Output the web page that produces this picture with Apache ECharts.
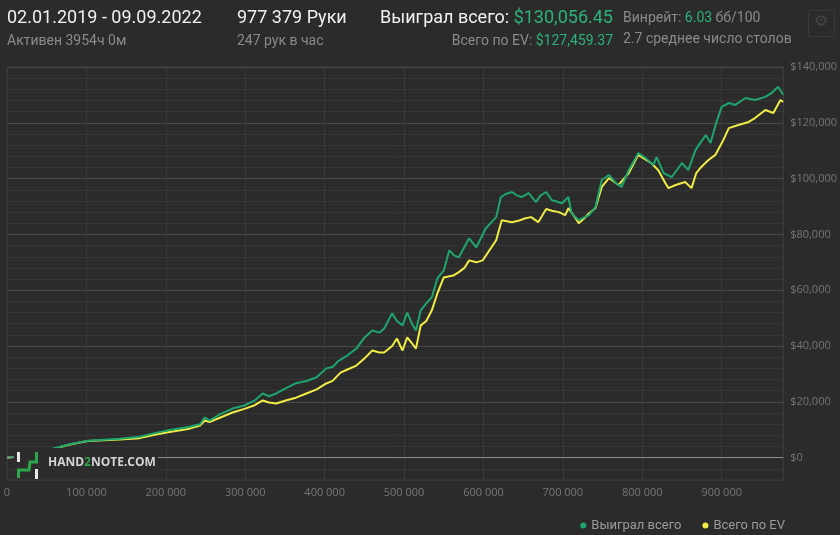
<!DOCTYPE html>
<html>
<head>
<meta charset="utf-8">
<script src="https://cdn.jsdelivr.net/npm/echarts@6/dist/echarts.min.js"></script>
<style>
html,body{margin:0;padding:0;background:#2b2b2b;}
#chart{width:840px;height:535px;}
</style>
</head>
<body>
<div id="chart"></div>
<script>
// ---- data (hands played, cumulative winnings $) ----
const wonHands = [0,16000,35000,54000,79000,102000,142000,167000,186000,201000,230000,243000,249000,255000,268000,284000,299000,312000,322000,330000,339000,352000,364000,377000,390000,402000,410000,418000,428000,440000,450000,460000,469000,475000,485000,491000,498000,504000,510000,515000,521000,528000,535000,542000,550000,557000,563000,569000,576000,582000,591000,603000,616000,622000,628000,636000,642000,648000,657000,666000,672000,679000,686000,692000,699000,707000,711000,720000,726000,733000,741000,749000,758000,767000,774000,783000,789000,795000,804000,814000,818000,827000,837000,850000,858000,867000,873000,880000,886000,893000,900000,909000,917000,930000,942000,955000,963000,971000,977379];
const wonValues = [0,600,1800,2900,4800,6100,6800,7500,8800,9700,11100,12000,14500,13300,15500,17600,18700,20500,23000,22000,23000,25000,26700,27500,28800,32000,32500,34800,36500,39100,43000,45600,44800,46300,51700,49000,47400,52000,48000,45600,52800,55300,57500,64300,67000,74300,72500,71800,75500,78600,75400,82200,86200,93400,94500,95200,94000,93400,94800,91600,94000,95200,92300,91800,91200,93400,87600,85100,86000,86900,89800,99500,101300,98400,97000,103100,106000,109200,107400,104900,107700,102000,100500,105600,103100,110200,112800,115600,112800,119900,125700,127100,126400,128900,128200,129300,130700,132900,130056.45];

const evHands = [0,16000,35000,54000,79000,102000,142000,167000,186000,201000,230000,243000,249000,255000,268000,284000,299000,312000,322000,330000,339000,352000,364000,377000,390000,402000,410000,420000,428000,440000,450000,460000,469000,475000,485000,491000,498000,504000,510000,515000,521000,528000,535000,542000,550000,563000,569000,576000,582000,591000,599000,616000,623000,636000,645000,653000,660000,669000,679000,686000,695000,703000,707000,716000,720000,726000,733000,741000,749000,758000,770000,783000,795000,811000,820000,829000,833000,842000,854000,862000,868000,874000,883000,892000,902000,909000,921000,934000,942000,955000,965000,974000,977379];
const evValues = [0,500,1700,2800,4700,6000,6500,7000,8200,9000,10400,11500,13300,12800,14300,16200,17500,18800,20500,19800,19400,20600,21500,23000,24500,26600,27500,30500,31500,33000,35500,38400,37700,37700,40000,42700,38400,43100,41000,39100,47400,49000,52800,58900,64600,65400,66500,68000,70700,70000,70700,77900,85100,84400,85000,85800,86200,84400,89100,88500,88000,86900,89400,85800,84000,85500,87600,89400,97000,100200,97700,102000,108500,105600,103100,98400,96600,97700,98800,96600,102000,104100,106600,108500,113800,118100,119200,120300,121700,124600,123500,128200,127459.37];

const seriesNames = ['Выиграл всего', 'Всего по EV'];
const xTickStep = 100000;
const yMin = -8000, yMax = 140000, yStep = 4000, yLabelStep = 20000;

const zip = (a, b) => a.map((v, i) => [v, b[i]]);

const chart = echarts.init(document.getElementById('chart'), null, {renderer: 'canvas'});

const GREEN = '#1ea56e';
const YELLOW = '#f0ec46';
const GRAY = '#8a8a8a';

function fmtHands(v){ return String(v).replace(/\B(?=(\d{3})+(?!\d))/g, ' '); }
function fmtMoney(v){ return '$' + String(v).replace(/\B(?=(\d{3})+(?!\d))/g, ','); }

chart.setOption({
  backgroundColor: '#2b2b2b',
  animation: false,
  grid: {left: 7, right: 56, top: 67, bottom: 55, show: true, borderColor: '#3a3a3a', borderWidth: 1},
  legend: {
    data: seriesNames,
    right: 50, top: 514,
    icon: 'circle', itemWidth: 6, itemHeight: 6, itemGap: 21,
    textStyle: {color: '#9a9a9a', fontSize: 13, fontFamily: 'Roboto'}
  },
  xAxis: {
    type: 'value', min: 0, max: 977379, interval: xTickStep,
    axisLine: {show: false}, axisTick: {show: false},
    axisLabel: {color: '#777', fontSize: 11, fontFamily: 'Open Sans', margin: 7, showMaxLabel: false,
      formatter: v => (v % xTickStep === 0 ? fmtHands(v) : '')},
    splitLine: {show: true, lineStyle: {color: '#393939', width: 1}}
  },
  yAxis: {
    type: 'value', position: 'right', min: yMin, max: yMax, interval: yStep,
    axisLine: {show: false}, axisTick: {show: false},
    axisLabel: {color: '#777', fontSize: 11, fontFamily: 'Open Sans', margin: 7,
      formatter: v => (v >= 0 && v % yLabelStep === 0 ? fmtMoney(v) : '')},
    splitLine: {show: true, lineStyle: {color: ['#363636', '#363636', '#4a4a4a', '#363636', '#363636'], width: 1}}
  },
  series: [
    {
      name: seriesNames[1], type: 'line', data: zip(evHands, evValues),
      showSymbol: false, lineStyle: {color: YELLOW, width: 2}, itemStyle: {color: YELLOW}, z: 3,
      markLine: {silent: true, symbol: 'none', label: {show: false},
        lineStyle: {color: '#8c8c8c', width: 1, type: 'solid'}, data: [{yAxis: 0}]}
    },
    {
      name: seriesNames[0], type: 'line', data: zip(wonHands, wonValues),
      showSymbol: false, lineStyle: {color: GREEN, width: 2}, itemStyle: {color: GREEN}, z: 4
    }
  ],
  graphic: [
    // header
    {type: 'text', left: 7, top: 9, z: 100, style: {text: '02.01.2019 - 09.09.2022', fill: '#f0f0f0', font: '18px Roboto'}},
    {type: 'text', left: 7, top: 34, z: 100, style: {text: 'Активен 3954ч 0м', fill: GRAY, font: '14px Roboto'}},
    {type: 'text', left: 237, top: 9, z: 100, style: {text: '977 379 Руки', fill: '#f0f0f0', font: '18px Roboto'}},
    {type: 'text', left: 237, top: 34, z: 100, style: {text: '247 рук в час', fill: GRAY, font: '14px Roboto'}},
    {type: 'text', left: 380, top: 9, z: 100, style: {
      text: '{w|Выиграл всего: }{g|$130,056.45}',
      rich: {w: {fill: '#f0f0f0', font: '18px Roboto'}, g: {fill: '#2bb37a', font: '18px Roboto'}}}},
    {type: 'text', right: 227, top: 34, z: 100, style: {
      text: '{a|Всего по EV: }{g|$127,459.37}', align: 'right',
      rich: {a: {fill: GRAY, font: '14px Roboto'}, g: {fill: '#2bb37a', font: '14px Roboto'}}}},
    {type: 'text', left: 623, top: 11, z: 100, style: {
      text: '{a|Винрейт: }{g|6.03}{a| бб/100}',
      rich: {a: {fill: GRAY, font: '14px Roboto'}, g: {fill: '#2bb37a', font: '14px Roboto'}}}},
    {type: 'text', left: 623, top: 32, z: 100, style: {text: '2.7 среднее число столов', fill: GRAY, font: '14px Roboto'}},
    // settings button
    {type: 'rect', z: 100, shape: {x: 808.5, y: 10.5, width: 26, height: 26, r: 2}, style: {fill: '#2b2b2b', stroke: '#3a3a3a', lineWidth: 1}},
    {type: 'text', z: 101, left: 814, top: 14, style: {text: '⚙', fill: '#444444', font: '16px DejaVu Sans'}},
    // logo
    {type: 'rect', z: 100, shape: {x: 14, y: 448, width: 144, height: 31}, style: {fill: '#2c2c2c'}},
    {type: 'rect', z: 101, shape: {x: 17, y: 452, width: 3, height: 10}, style: {fill: '#e8e8e8'}},
    {type: 'polyline', z: 101, shape: {points: [[18.5, 478], [18.5, 470], [29, 470], [30, 462], [36.5, 462], [36.5, 452]]}, style: {stroke: '#2da54a', lineWidth: 3, fill: null}},
    {type: 'rect', z: 101, shape: {x: 35, y: 469, width: 3, height: 10}, style: {fill: '#e8e8e8'}},
    {type: 'text', z: 101, left: 48, top: 457, style: {
      text: '{w|HAND}{g|2}{w|NOTE.COM}',
      rich: {w: {fill: '#d4d4d4', font: 'bold 12px Open Sans'}, g: {fill: '#2da54a', font: 'bold 12px Open Sans'}}}}
  ]
});
</script>
</body>
</html>
